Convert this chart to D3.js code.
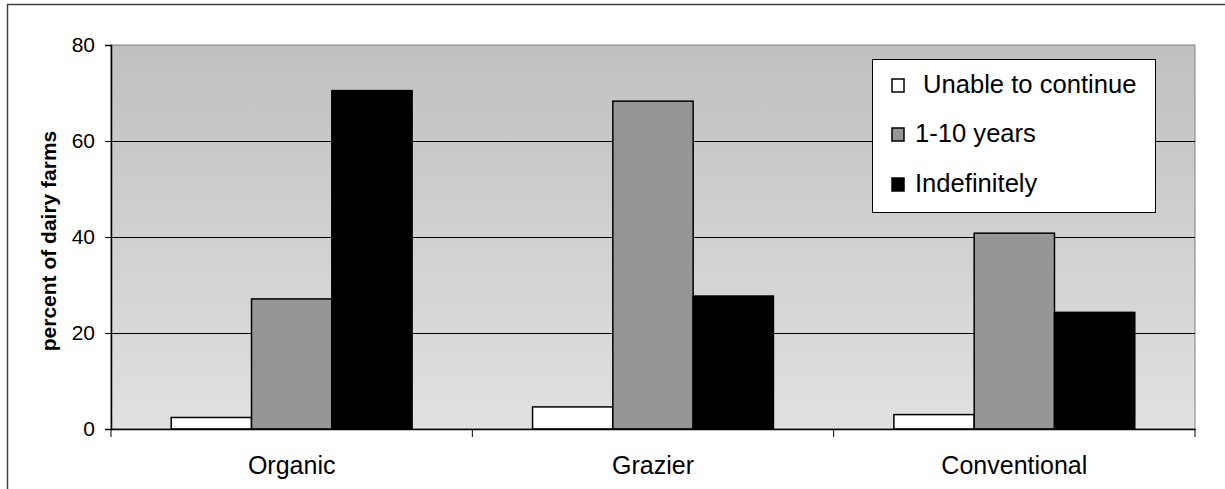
<!DOCTYPE html>
<html>
<head>
<meta charset="utf-8">
<script src="https://cdn.jsdelivr.net/npm/d3@7"></script>
<style>
  html, body { margin: 0; padding: 0; background: #fff; }
  svg { display: block; }
  text { font-family: "Liberation Sans", Arial, sans-serif; fill: #000; }
</style>
</head>
<body>
<svg id="chart" width="1225" height="489"></svg>
<script>
// ---- data ----
const categories = ["Organic", "Grazier", "Conventional"];
const seriesNames = ["Unable to continue", "1-10 years", "Indefinitely"];
const unableToContinue = [2.4, 4.6, 3.0];
const oneToTenYears = [27.1, 68.3, 40.8];
const indefinitely = [70.5, 27.7, 24.3];
const yTicks = [0, 20, 40, 60, 80];
const yLabel = "percent of dairy farms";

const seriesValues = [unableToContinue, oneToTenYears, indefinitely];
const seriesColors = ["#ffffff", "#969696", "#000000"];

// ---- layout ----
const W = 1225, H = 489;
const plot = { left: 111, right: 1195, top: 45, bottom: 429 };

const svg = d3.select("#chart");

// outer frame (cropped: only top and left visible)
svg.append("line").attr("x1", 7).attr("x2", W).attr("y1", 4.5).attr("y2", 4.5)
  .attr("stroke", "#404040").attr("stroke-width", 1.5);
svg.append("line").attr("x1", 7.5).attr("x2", 7.5).attr("y1", 4).attr("y2", H)
  .attr("stroke", "#404040").attr("stroke-width", 1.5);

// gradient plot background
const defs = svg.append("defs");
const grad = defs.append("linearGradient").attr("id", "bg")
  .attr("x1", 0).attr("y1", 0).attr("x2", 0).attr("y2", 1);
grad.append("stop").attr("offset", "0%").attr("stop-color", "#c0c0c0");
grad.append("stop").attr("offset", "100%").attr("stop-color", "#e1e1e1");

const x0 = d3.scaleBand().domain(categories).range([plot.left, plot.right]).paddingInner(0).paddingOuter(0);
const y = d3.scaleLinear().domain([0, 80]).range([plot.bottom, plot.top]);
// bars: gap width 150% => group occupies 3/(3+1.5) of band
const groupFrac = 3 / 4.5;
const x1 = d3.scaleBand().domain(d3.range(seriesNames.length))
  .range([0, x0.bandwidth() * groupFrac]);

svg.append("rect")
  .attr("x", plot.left).attr("y", plot.top)
  .attr("width", plot.right - plot.left).attr("height", plot.bottom - plot.top)
  .attr("fill", "url(#bg)")
  .attr("stroke", "#808080").attr("stroke-width", 1);

// gridlines
svg.append("g").selectAll("line").data(yTicks.filter(t => t > 0 && t < 80)).join("line")
  .attr("x1", plot.left).attr("x2", plot.right)
  .attr("y1", d => Math.round(y(d)) + 0.5).attr("y2", d => Math.round(y(d)) + 0.5)
  .attr("stroke", "#000").attr("stroke-width", 1);

// bars
const groups = svg.append("g").selectAll("g").data(categories).join("g")
  .attr("transform", c => `translate(${x0(c) + x0.bandwidth() * (1 - groupFrac) / 2},0)`);
groups.selectAll("rect").data((c, ci) => seriesValues.map((s, si) => ({ si, v: s[ci] }))).join("rect")
  .attr("x", d => x1(d.si))
  .attr("y", d => y(d.v))
  .attr("width", x1.bandwidth())
  .attr("height", d => y(0) - y(d.v))
  .attr("fill", d => seriesColors[d.si])
  .attr("stroke", "#000").attr("stroke-width", 1.5);

// y axis
const yAxis = d3.axisLeft(y).tickValues(yTicks).tickSize(6).tickPadding(10).tickFormat(d3.format("d"));
const yg = svg.append("g").attr("transform", `translate(${plot.left},0)`).call(yAxis);
yg.select(".domain").attr("stroke", "#000").attr("stroke-width", 1.5);
yg.selectAll(".tick line").attr("stroke", "#000");
yg.selectAll("text").attr("font-size", 21).attr("font-family", "Liberation Sans, Arial, sans-serif");

// x axis
const xAxis = d3.axisBottom(x0).tickSize(0).tickPadding(27);
const xg = svg.append("g").attr("transform", `translate(0,${plot.bottom})`).call(xAxis);
xg.select(".domain").attr("stroke", "#000").attr("stroke-width", 1.5);
xg.selectAll("text").attr("font-size", 25).attr("font-family", "Liberation Sans, Arial, sans-serif");
// category separators
const sepTicks = [plot.left, ...categories.map(c => x0(c) + x0.bandwidth())];
xg.append("g").selectAll("line").data(sepTicks).join("line")
  .attr("x1", d => d).attr("x2", d => d).attr("y1", 0).attr("y2", 8)
  .attr("stroke", "#000").attr("stroke-width", 1);

// y label
svg.append("text")
  .attr("transform", `translate(56,${(plot.top + plot.bottom) / 2 + 4}) rotate(-90)`)
  .attr("text-anchor", "middle")
  .attr("font-size", 21).attr("font-weight", "bold")
  .text(yLabel);

// legend
const lg = svg.append("g");
lg.append("rect").attr("x", 872.5).attr("y", 59.5).attr("width", 283).attr("height", 153)
  .attr("fill", "#fff").attr("stroke", "#000").attr("stroke-width", 1);
const legendRows = [86, 135, 185];
const legendTextX = [923, 915, 915];
seriesNames.forEach((name, i) => {
  lg.append("rect").attr("x", 892).attr("y", legendRows[i] - 7).attr("width", 12).attr("height", 13)
    .attr("fill", seriesColors[i]).attr("stroke", "#000").attr("stroke-width", 1.5);
  lg.append("text").attr("x", legendTextX[i]).attr("y", legendRows[i] + 7)
    .attr("font-size", 25.6).text(name);
});
</script>
</body>
</html>
